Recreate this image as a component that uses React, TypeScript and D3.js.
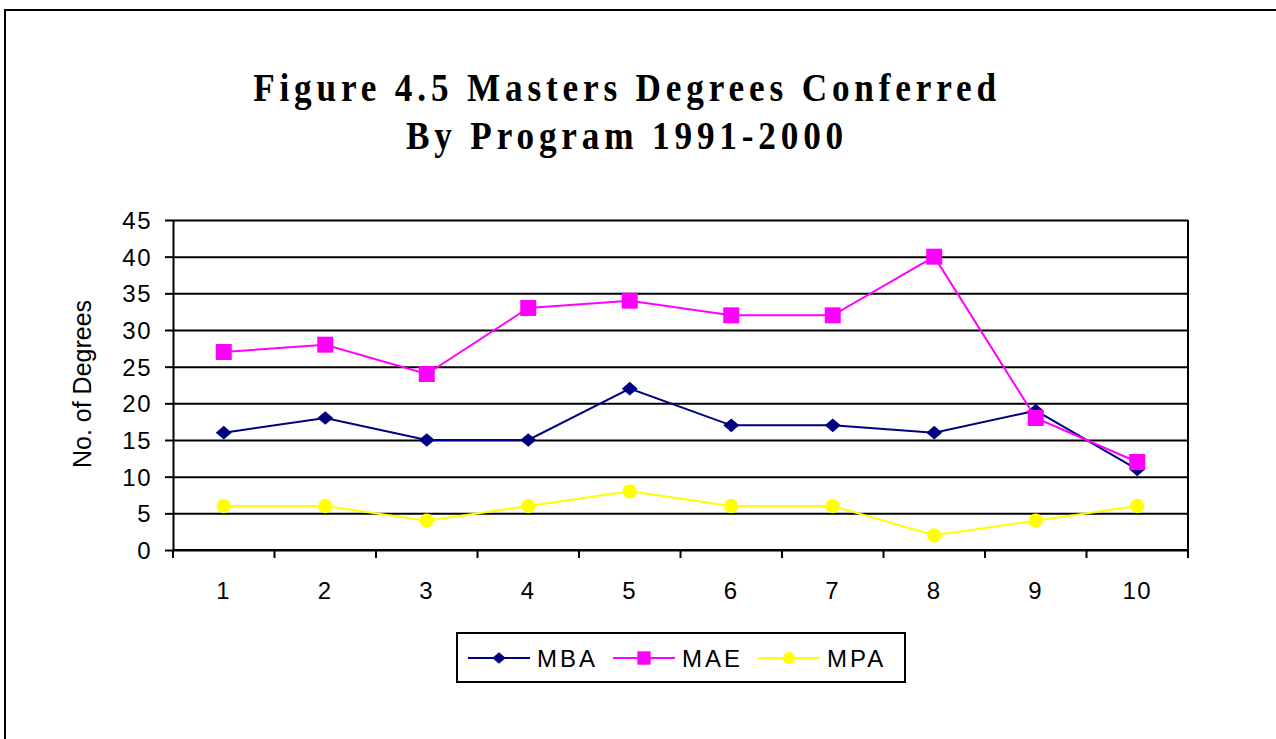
import React, { useEffect, useRef } from 'react';
import * as d3 from 'd3';

// chart data
const categories = ['1', '2', '3', '4', '5', '6', '7', '8', '9', '10'];
const mbaValues = [16, 18, 15, 15, 22, 17, 17, 16, 19, 11];
const maeValues = [27, 28, 24, 33, 34, 32, 32, 40, 18, 12];
const mpaValues = [6, 6, 4, 6, 8, 6, 6, 2, 4, 6];
const yTicks = [0, 5, 10, 15, 20, 25, 30, 35, 40, 45];
const titleLines = ['Figure 4.5 Masters Degrees Conferred', 'By Program 1991-2000'];

// flat diamond like the old spreadsheet marker
const flatDiamond = {
  draw(ctx: any, size: number) {
    const r = Math.sqrt(size) / 2;
    ctx.moveTo(-r, 0);
    ctx.lineTo(0, -r * 0.85);
    ctx.lineTo(r, 0);
    ctx.lineTo(0, r * 0.85);
    ctx.closePath();
  },
};

const series = [
  { name: 'MBA', values: mbaValues, color: '#000080', symbol: flatDiamond, size: 256 },
  { name: 'MAE', values: maeValues, color: '#FF00FF', symbol: d3.symbolSquare, size: 256 },
  { name: 'MPA', values: mpaValues, color: '#FFFF00', symbol: d3.symbolCircle, size: 160 },
];

const W = 1276;
const H = 739;
const margin = { top: 220, right: 88, bottom: 189, left: 173 };

const App = () => {
  const node = useRef<SVGSVGElement | null>(null);

  useEffect(() => {
    const svg = d3.select(node.current);
    svg.selectAll('*').remove();

    const w = W - margin.left - margin.right;
    const h = H - margin.top - margin.bottom;
    const font = "'Liberation Sans', Arial, sans-serif";
    const fs = 24;

    // outer frame
    svg.append('rect')
      .attr('x', 5).attr('y', 10)
      .attr('width', 1300).attr('height', 760)
      .attr('fill', 'white').attr('stroke', 'black').attr('stroke-width', 2);

    // title (condensed look: taller glyphs squeezed horizontally)
    const title = svg.append('text')
      .attr('transform', 'translate(627, 0) scale(0.88, 1)')
      .attr('text-anchor', 'middle')
      .attr('font-family', "'Liberation Serif', serif")
      .attr('font-weight', 'bold')
      .attr('font-size', 40)
      .attr('letter-spacing', 5.5);
    titleLines.forEach((t, i) => {
      title.append('tspan').attr('x', 0).attr('y', 101 + i * 48).text(t);
    });

    const xScale = d3.scaleBand().domain(categories).range([0, w]);
    const yScale = d3.scaleLinear().domain([0, 45]).range([h, 0]);

    const main = svg.append('g')
      .attr('transform', `translate(${margin.left}, ${margin.top})`);

    // grid
    main.append('g')
      .call(d3.axisLeft(yScale).tickValues(yTicks).tickSize(-w).tickFormat(() => ''))
      .call(g => g.select('.domain').remove())
      .selectAll('line')
      .attr('stroke', 'black').attr('stroke-width', 2);

    // y axis
    const yAxis = main.append('g')
      .call(d3.axisLeft(yScale).tickValues(yTicks).tickSize(8).tickPadding(13).tickSizeOuter(0));
    yAxis.attr('font-size', fs).attr('font-family', font);
    yAxis.select('.domain').attr('stroke-width', 2);
    yAxis.selectAll('line').attr('stroke-width', 2);
    yAxis.selectAll('text')
      .attr('fill', 'black').attr('dy', '0.36em').attr('letter-spacing', 1.5);

    // right frame of plot
    main.append('line')
      .attr('x1', w).attr('x2', w).attr('y1', 0).attr('y2', h)
      .attr('stroke', 'black').attr('stroke-width', 2);

    // x axis
    const xAxis = main.append('g').attr('transform', `translate(0, ${h})`);
    xAxis.append('line')
      .attr('x1', 0).attr('x2', w)
      .attr('stroke', 'black').attr('stroke-width', 2);
    xAxis.selectAll('line.tick')
      .data(d3.range(categories.length + 1))
      .enter().append('line')
      .attr('class', 'tick')
      .attr('x1', i => i * xScale.bandwidth()).attr('x2', i => i * xScale.bandwidth())
      .attr('y1', 0).attr('y2', 8)
      .attr('stroke', 'black').attr('stroke-width', 2);
    xAxis.selectAll('text')
      .data(categories)
      .enter().append('text')
      .attr('x', d => (xScale(d) as number) + xScale.bandwidth() / 2)
      .attr('y', 49)
      .attr('text-anchor', 'middle')
      .attr('font-family', font).attr('font-size', fs).attr('letter-spacing', 1.5)
      .text(d => d);

    // y label
    svg.append('text')
      .attr('transform', 'translate(91, 384) rotate(-90)')
      .attr('text-anchor', 'middle')
      .attr('font-family', font).attr('font-size', 25)
      .text('No. of Degrees');

    // lines and markers
    const cx = (i: number) => (xScale(categories[i]) as number) + xScale.bandwidth() / 2;
    series.forEach(s => {
      const line = d3.line<number>().x((_, i) => cx(i)).y(d => yScale(d));
      main.append('path')
        .datum(s.values)
        .attr('d', line)
        .attr('fill', 'none').attr('stroke', s.color).attr('stroke-width', 2);
      main.selectAll(`path.m-${s.name}`)
        .data(s.values)
        .enter().append('path')
        .attr('class', `m-${s.name}`)
        .attr('transform', (d, i) => `translate(${cx(i)}, ${yScale(d)})`)
        .attr('d', d3.symbol().type(s.symbol as any).size(s.size)())
        .attr('fill', s.color);
    });

    // legend
    const legend = svg.append('g').attr('transform', 'translate(457, 633)');
    legend.append('rect')
      .attr('width', 448).attr('height', 49)
      .attr('fill', 'white').attr('stroke', 'black').attr('stroke-width', 2);
    const items = legend.selectAll('g.item')
      .data(series)
      .enter().append('g')
      .attr('class', 'item')
      .attr('transform', (_, i) => `translate(${11 + i * 145}, 25)`);
    items.append('line')
      .attr('x1', 0).attr('x2', 62)
      .attr('stroke', d => d.color).attr('stroke-width', 2);
    items.append('path')
      .attr('transform', 'translate(31, 0)')
      .attr('d', d => d3.symbol().type(d.symbol as any).size(d.size * 0.7)())
      .attr('fill', d => d.color);
    items.append('text')
      .attr('x', 69).attr('dy', '0.36em')
      .attr('font-family', font).attr('font-size', fs).attr('letter-spacing', 3)
      .text(d => d.name);
  }, []);

  return (
    <div style={{ position: 'fixed', left: 0, top: 0 }}>
      <svg ref={node} width={W} height={H} style={{ display: 'block' }} />
    </div>
  );
};

export default App;
